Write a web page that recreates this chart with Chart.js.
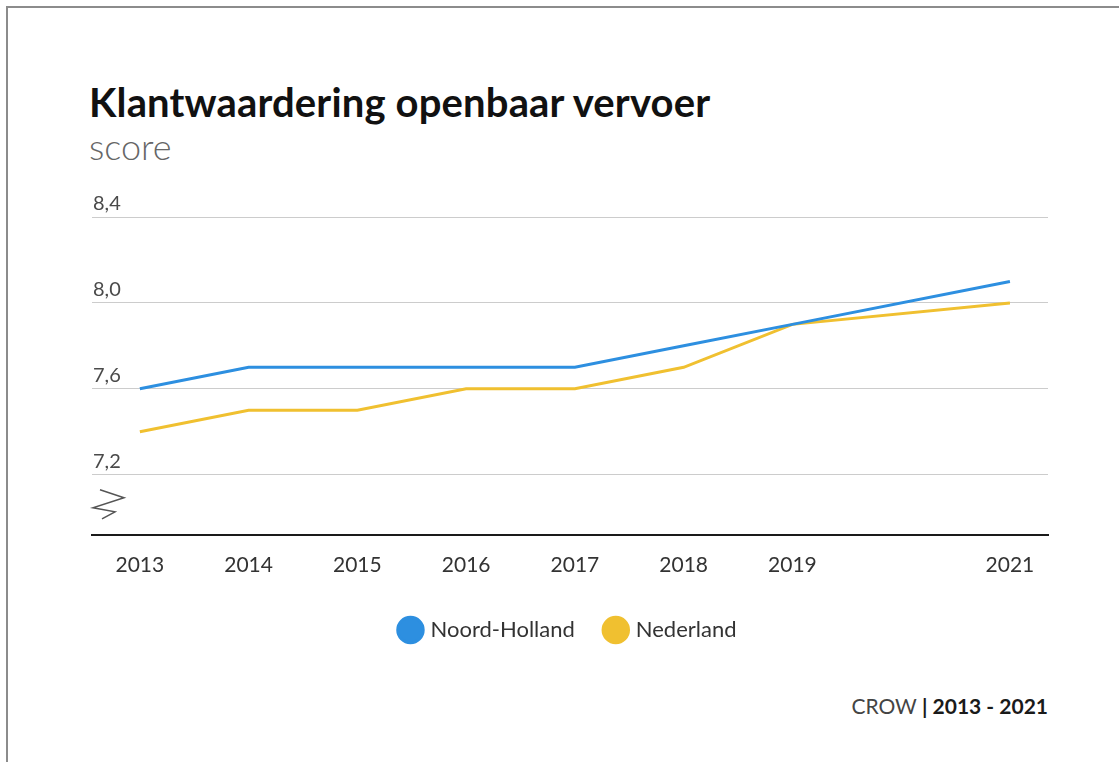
<!DOCTYPE html>
<html>
<head>
<meta charset="utf-8">
<script src="https://cdn.jsdelivr.net/npm/chart.js@4/dist/chart.umd.min.js"></script>
<style>
  body { margin: 0; background: #fff; font-family: Lato, "Open Sans", sans-serif; }
  #page { position: relative; width: 1119px; height: 762px; overflow: hidden; }
  #frame { position: absolute; left: 6px; top: 6px; width: 1200px; height: 800px;
           border-left: 2px solid #8c8c8c; border-top: 2px solid #8c8c8c; }
  #title { position: absolute; left: 89px; top: 80px; font-size: 40px; font-weight: 700;
           letter-spacing: 0.15px; color: #111; line-height: 44px; white-space: nowrap; }
  #subtitle { position: absolute; left: 89px; top: 124px; font-size: 36px; font-weight: 300;
              color: #666; line-height: 44px; }
  #source { position: absolute; right: 71px; top: 694px; font-size: 21px; color: #444;
            line-height: 24px; white-space: nowrap; }
  #source b { color: #1a1a1a; }
  #wrap { position: absolute; left: 0; top: 190px; width: 1119px; height: 461px; }
</style>
</head>
<body>
<div id="page">
  <div id="frame"></div>
  <div id="title">Klantwaardering openbaar vervoer</div>
  <div id="subtitle">score</div>
  <div id="wrap"><canvas id="chart"></canvas></div>
  <div id="source">CROW <b>| 2013 - 2021</b></div>
</div>
<script>
const years = [2013, 2014, 2015, 2016, 2017, 2018, 2019, 2021];
const noordHolland = [7.6, 7.7, 7.7, 7.7, 7.7, 7.8, 7.9, 8.1];
const nederland = [7.4, 7.5, 7.5, 7.6, 7.6, 7.7, 7.9, 8.0];
const yTicks = [7.2, 7.6, 8.0, 8.4];

const toPoints = (vals) => years.map((y, i) => ({ x: y, y: vals[i] }));

// zigzag "axis break" mark under the lowest gridline
const breakMark = {
  id: 'breakMark',
  afterDraw(chart) {
    const { ctx, chartArea } = chart;
    const x0 = chartArea.left, y0 = chartArea.bottom;
    ctx.save();
    ctx.strokeStyle = '#555';
    ctx.lineWidth = 1.5;
    ctx.beginPath();
    ctx.moveTo(x0 + 8, y0 - 45);
    ctx.lineTo(x0 + 32, y0 - 37);
    ctx.lineTo(x0 + 1, y0 - 27);
    ctx.lineTo(x0 + 23, y0 - 23);
    ctx.lineTo(x0 + 10, y0 - 16);
    ctx.stroke();
    ctx.restore();
  }
};

new Chart(document.getElementById('chart'), {
  type: 'line',
  data: {
    datasets: [
      { label: 'Noord-Holland', data: toPoints(noordHolland), borderColor: '#2d8fe0',
        backgroundColor: '#2d8fe0', borderWidth: 3, pointRadius: 0, tension: 0 },
      { label: 'Nederland', data: toPoints(nederland), borderColor: '#f0c030',
        backgroundColor: '#f0c030', borderWidth: 3, pointRadius: 0, tension: 0 }
    ]
  },
  options: {
    responsive: true,
    maintainAspectRatio: false,
    animation: false,
    layout: { padding: { top: 27, left: 90, right: 71, bottom: 0 } },
    plugins: {
      tooltip: { enabled: false },
      legend: {
        position: 'bottom',
        labels: {
          usePointStyle: true,
          pointStyle: 'circle',
          boxWidth: 18,
          boxHeight: 18,
          padding: 32,
          color: '#333',
          font: { family: 'Lato', size: 22 }
        }
      }
    },
    scales: {
      x: {
        type: 'linear',
        min: 2012.56,
        max: 2021.35,
        afterBuildTicks: (axis) => { axis.ticks = years.map(v => ({ value: v })); },
        afterFit: (axis) => { axis.height -= 1; },
        grid: { display: false },
        border: { display: true, color: '#1a1a1a', width: 2 },
        ticks: {
          padding: 10,
          color: '#333',
          font: { family: 'Lato', size: 21 },
          callback: (v) => String(v),
          maxRotation: 0,
          autoSkip: false
        }
      },
      y: {
        min: 6.92,
        max: 8.4,
        afterBuildTicks: (axis) => { axis.ticks = yTicks.map(v => ({ value: v })); },
        grid: { color: '#cccccc', lineWidth: 1, drawTicks: false },
        border: { display: false },
        ticks: {
          mirror: true,
          padding: 1,
          labelOffset: -13,
          color: '#4a4a4a',
          font: { family: 'Lato', size: 20 },
          callback: (v) => v.toFixed(1).replace('.', ',')
        }
      }
    }
  },
  plugins: [breakMark]
});
</script>
</body>
</html>
